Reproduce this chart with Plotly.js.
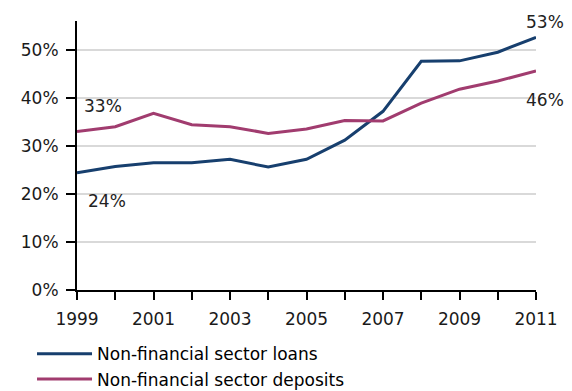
<!DOCTYPE html>
<html>
<head>
<meta charset="utf-8">
<script src="https://cdn.plot.ly/plotly-3.0.1.min.js"></script>
<style>html,body{margin:0;padding:0;background:#fff;}#chart{width:572px;height:391px;}</style>
</head>
<body>
<div id="chart"></div>
<script>
var years = [1999,2000,2001,2002,2003,2004,2005,2006,2007,2008,2009,2010,2011];
var loans = [24.4,25.7,26.5,26.5,27.2,25.6,27.2,31.2,37.2,47.6,47.7,49.5,52.6];
var deposits = [33.0,34.0,36.8,34.4,34.0,32.6,33.5,35.3,35.2,38.9,41.8,43.5,45.6];
var seriesNames = ['Non-financial sector loans','Non-financial sector deposits'];
var yTicks = [0,10,20,30,40,50];
var xTickText = years.map(function(y){ return (y % 2 === 1) ? String(y) : ''; });

var blue = '#173f6e';
var pink = '#a13c6f';
var font = 'DejaVu Sans, Verdana, sans-serif';

var traces = [
  {x: years, y: loans, name: seriesNames[0], type: 'scatter', mode: 'lines',
   line: {color: blue, width: 3}, legendgroup: 'a'},
  {x: years, y: deposits, name: seriesNames[1], type: 'scatter', mode: 'lines',
   line: {color: pink, width: 3}, legendgroup: 'b'}
];

var last = years.length - 1;
function pct(v){ return Math.round(v) + '%'; }
var annFont = {family: font, size: 17, color: '#222'};
var annotations = [
  {x: years[0], y: deposits[0], text: pct(deposits[0]), showarrow: false, xanchor: 'left', yanchor: 'middle', xshift: 5, yshift: 25, font: annFont},
  {x: years[0], y: loans[0], text: pct(loans[0]), showarrow: false, xanchor: 'left', yanchor: 'middle', xshift: 9, yshift: -28, font: annFont},
  {x: years[last], y: loans[last], text: pct(loans[last]), showarrow: false, xanchor: 'center', yanchor: 'middle', xshift: 9, yshift: 15, font: annFont},
  {x: years[last], y: deposits[last], text: pct(deposits[last]), showarrow: false, xanchor: 'center', yanchor: 'middle', xshift: 9, yshift: -29, font: annFont}
];

var layout = {
  width: 572, height: 391,
  margin: {l: 77, r: 36, t: 21, b: 101, autoexpand: false},
  paper_bgcolor: '#fff', plot_bgcolor: '#fff',
  font: {family: font, size: 17, color: '#1a1a1a'},
  showlegend: true,
  legend: {x: -0.098, y: -0.172, xanchor: 'left', yanchor: 'top', orientation: 'v',
           font: {family: font, size: 17, color: '#000'}, tracegroupgap: 0,
           bgcolor: 'rgba(0,0,0,0)', itemwidth: 55},
  xaxis: {range: [1999, 2011], tickmode: 'array', tickvals: years, ticktext: xTickText,
          showgrid: false, zeroline: false, showline: true, linecolor: '#000', linewidth: 2,
          ticks: 'outside', ticklen: 8, tickwidth: 2, tickcolor: '#000', ticklabelstandoff: 5,
          tickfont: {family: font, size: 17, color: '#1a1a1a'}, fixedrange: true},
  yaxis: {range: [0, 56], tickmode: 'array', tickvals: yTicks, ticktext: yTicks.map(function(v){return v+'%';}),
          showgrid: true, gridcolor: '#d9d9d9', gridwidth: 2, zeroline: false,
          showline: true, linecolor: '#000', linewidth: 2,
          ticks: 'outside', ticklen: 9, tickwidth: 2, tickcolor: '#000', ticklabelstandoff: 4,
          tickfont: {family: font, size: 17, color: '#1a1a1a'}, fixedrange: true},
  annotations: annotations
};

Plotly.newPlot('chart', traces, layout, {displayModeBar: false, staticPlot: true});
</script>
</body>
</html>
